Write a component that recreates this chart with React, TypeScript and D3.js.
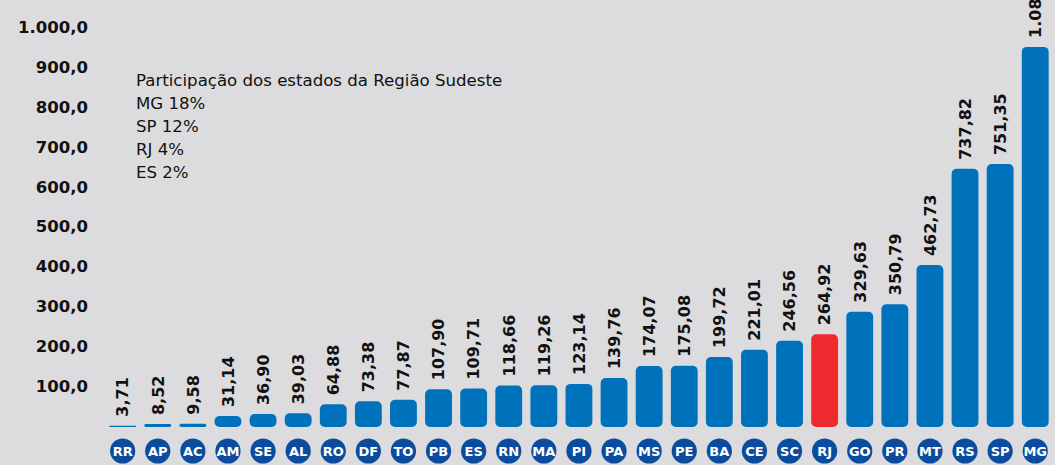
import React from "react";
import * as d3 from "d3";

const states = ["RR","AP","AC","AM","SE","AL","RO","DF","TO","PB","ES","RN","MA","PI","PA","MS","PE","BA","CE","SC","RJ","GO","PR","MT","RS","SP","MG"];
const values = [3.71,8.52,9.58,31.14,36.9,39.03,64.88,73.38,77.87,107.9,109.71,118.66,119.26,123.14,139.76,174.07,175.08,199.72,221.01,246.56,264.92,329.63,350.79,462.73,737.82,751.35,1086.0];
const highlight = ["RJ"];
const yTicks = [100,200,300,400,500,600,700,800,900,1000];
const noteLines = ["Participação dos estados da Região Sudeste","MG 18%","SP 12%","RJ 4%","ES 2%"];

const W = 1055, H = 465;
const BG = "#dcdcde";
const BLUE = "#0072bc";
const RED = "#ee2a2e";
const DARK = "#0b4c9e";

const br = d3.formatLocale({ decimal: ",", thousands: ".", grouping: [3], currency: ["R$", ""] });
const fmtAxis = br.format(",.1f");
const fmtVal = br.format(",.2f");

export default function App() {
  const x = d3.scaleBand<string>().domain(states).range([105.2, 1052.7]).paddingInner(0.235).paddingOuter(0.115);
  const yAxis = d3.scaleLinear().domain([0, 1000]).range([426, 27]);
  const yBar = d3.scaleLinear().domain([0, 1000]).range([427, 77]);
  const bw = x.bandwidth();
  const numFont = "'DejaVu Sans', sans-serif";
  return (
    <svg width={W} height={H} style={{ position: "absolute", left: 0, top: 0, display: "block" }}>
      <rect x={0} y={0} width={W} height={H} fill={BG} />
      {yTicks.map((t) => (
        <text key={t} x={88} y={yAxis(t)} dy="0.36em" textAnchor="end" fontFamily={numFont} fontWeight="bold" fontSize={16.5} fill="#111">
          {fmtAxis(t)}
        </text>
      ))}
      {noteLines.map((l, i) => (
        <text key={i} x={136} y={86 + i * 23} fontFamily="'DejaVu Sans', sans-serif" fontSize={16.6} fill="#111">{l}</text>
      ))}
      {states.map((s, i) => {
        const v = values[i];
        const x0 = x(s)!;
        const cx = x0 + bw / 2;
        const top = yBar(v);
        const h = yBar(0) - top;
        const r = Math.min(5, h / 2);
        return (
          <g key={s}>
            <rect x={x0} y={top} width={bw} height={Math.max(h, 1)} rx={r} ry={r} fill={highlight.includes(s) ? RED : BLUE} />
            <text transform={`translate(${cx},${top - 9}) rotate(-90)`} dy="0.36em" textAnchor="start" fontFamily={numFont} fontWeight="bold" fontSize={16} fill="#111">
              {fmtVal(v)}
            </text>
            <circle cx={cx} cy={451} r={12.6} fill={DARK} />
            <text x={cx} y={451} dy="0.36em" textAnchor="middle" fontFamily={numFont} fontWeight="bold" fontSize={13} fill="#fff">{s}</text>
          </g>
        );
      })}
    </svg>
  );
}
